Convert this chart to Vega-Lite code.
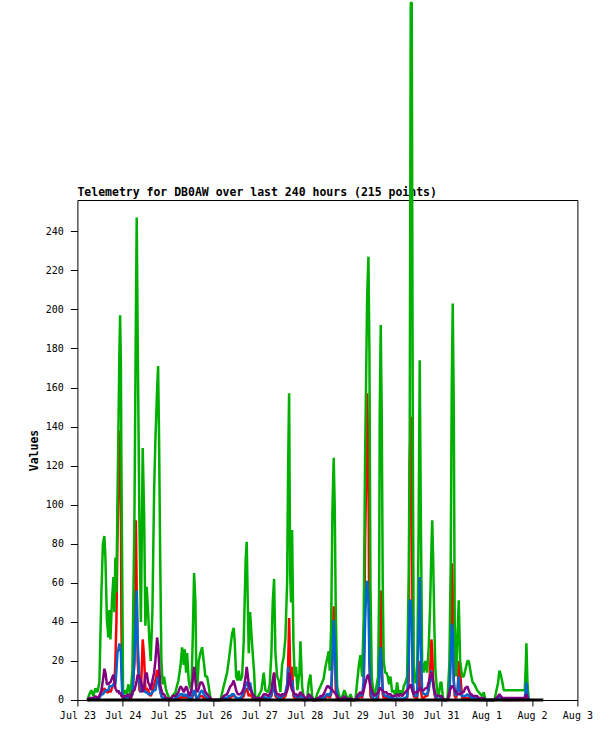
{
"$schema":"https://vega.github.io/schema/vega-lite/v6.json",
"autosize":{"type":"pad"},
"padding":{"left":27.4,"top":0,"right":23,"bottom":20},
"background":"white",
"bounds":"flush",
"spacing":0,
"vconcat":[
{"width":500,"height":1,
 "title":{"text":"Telemetry for DB0AW over last 240 hours (215 points)","anchor":"start","frame":"group","font":"DejaVu Sans Mono","fontSize":11.5,"fontWeight":"bold","color":"black","offset":1},
 "data":{"values":[]},
 "mark":{"type":"point","opacity":0}},
{
"width":500,"height":500,
"data":{"values":[
{"t":"2024-07-23T05:17","g":0,"r":0,"b":0,"p":0,"k":0},
{"t":"2024-07-23T06:20","g":3,"r":0,"b":0,"p":1,"k":0},
{"t":"2024-07-23T07:23","g":5,"r":1,"b":1,"p":1,"k":0},
{"t":"2024-07-23T08:27","g":2,"r":0,"b":0,"p":1,"k":0},
{"t":"2024-07-23T09:30","g":6,"r":1,"b":1,"p":2,"k":0},
{"t":"2024-07-23T10:34","g":4,"r":1,"b":1,"p":1,"k":0},
{"t":"2024-07-23T11:37","g":9,"r":2,"b":1,"p":2,"k":0},
{"t":"2024-07-23T12:40","g":55,"r":4,"b":3,"p":5,"k":0},
{"t":"2024-07-23T13:28","g":80,"r":5,"b":3,"p":10,"k":0},
{"t":"2024-07-23T14:15","g":84,"r":6,"b":4,"p":16,"k":0},
{"t":"2024-07-23T14:47","g":73,"r":5,"b":5,"p":14,"k":0},
{"t":"2024-07-23T15:35","g":41,"r":4,"b":5,"p":8,"k":0},
{"t":"2024-07-23T16:22","g":32,"r":4,"b":5,"p":8,"k":0},
{"t":"2024-07-23T16:54","g":46,"r":5,"b":7,"p":9,"k":0},
{"t":"2024-07-23T17:26","g":31,"r":4,"b":7,"p":9,"k":0},
{"t":"2024-07-23T18:13","g":50,"r":6,"b":7,"p":11,"k":0},
{"t":"2024-07-23T19:01","g":63,"r":8,"b":8,"p":13,"k":0},
{"t":"2024-07-23T19:32","g":45,"r":8,"b":8,"p":10,"k":0},
{"t":"2024-07-23T20:04","g":73,"r":20,"b":8,"p":6,"k":0},
{"t":"2024-07-23T20:36","g":55,"r":40,"b":15,"p":5,"k":0},
{"t":"2024-07-23T21:07","g":99,"r":80,"b":24,"p":4,"k":0},
{"t":"2024-07-23T21:39","g":138,"r":106,"b":26,"p":5,"k":0},
{"t":"2024-07-23T22:11","g":178,"r":138,"b":29,"p":3,"k":0},
{"t":"2024-07-23T22:33","g":197,"r":123,"b":27,"p":4,"k":0},
{"t":"2024-07-23T22:58","g":172,"r":100,"b":25,"p":3,"k":0},
{"t":"2024-07-23T23:14","g":120,"r":40,"b":15,"p":2,"k":0},
{"t":"2024-07-23T23:36","g":73,"r":10,"b":5,"p":2,"k":0},
{"t":"2024-07-24T00:08","g":2,"r":0,"b":2,"p":1,"k":0},
{"t":"2024-07-24T00:49","g":5,"r":1,"b":1,"p":2,"k":0},
{"t":"2024-07-24T01:52","g":3,"r":0,"b":1,"p":2,"k":0},
{"t":"2024-07-24T02:56","g":8,"r":1,"b":2,"p":3,"k":0},
{"t":"2024-07-24T03:59","g":2,"r":0,"b":1,"p":1,"k":0},
{"t":"2024-07-24T05:03","g":15,"r":3,"b":3,"p":4,"k":0},
{"t":"2024-07-24T06:06","g":92,"r":20,"b":20,"p":5,"k":0},
{"t":"2024-07-24T06:53","g":196,"r":92,"b":45,"p":8,"k":0},
{"t":"2024-07-24T07:19","g":247,"r":56,"b":56,"p":10,"k":0},
{"t":"2024-07-24T07:50","g":185,"r":20,"b":30,"p":13,"k":0},
{"t":"2024-07-24T08:44","g":92,"r":5,"b":10,"p":12,"k":0},
{"t":"2024-07-24T09:32","g":40,"r":4,"b":4,"p":10,"k":0},
{"t":"2024-07-24T10:29","g":129,"r":31,"b":6,"p":4,"k":0},
{"t":"2024-07-24T11:13","g":96,"r":22,"b":5,"p":7,"k":0},
{"t":"2024-07-24T11:54","g":38,"r":5,"b":4,"p":13,"k":0},
{"t":"2024-07-24T12:36","g":58,"r":6,"b":4,"p":14,"k":0},
{"t":"2024-07-24T13:20","g":45,"r":5,"b":3,"p":9,"k":0},
{"t":"2024-07-24T14:01","g":30,"r":3,"b":3,"p":8,"k":0},
{"t":"2024-07-24T14:42","g":20,"r":2,"b":3,"p":5,"k":0},
{"t":"2024-07-24T15:36","g":45,"r":4,"b":4,"p":10,"k":0},
{"t":"2024-07-24T16:30","g":107,"r":8,"b":5,"p":14,"k":0},
{"t":"2024-07-24T17:11","g":133,"r":10,"b":5,"p":20,"k":0},
{"t":"2024-07-24T18:05","g":159,"r":15,"b":10,"p":32,"k":0},
{"t":"2024-07-24T18:37","g":171,"r":15,"b":12,"p":28,"k":0},
{"t":"2024-07-24T19:08","g":133,"r":10,"b":8,"p":19,"k":0},
{"t":"2024-07-24T19:40","g":77,"r":5,"b":5,"p":8,"k":0},
{"t":"2024-07-24T20:21","g":20,"r":2,"b":2,"p":5,"k":0},
{"t":"2024-07-24T21:03","g":8,"r":1,"b":1,"p":3,"k":0},
{"t":"2024-07-24T21:47","g":12,"r":1,"b":1,"p":3,"k":0},
{"t":"2024-07-24T22:38","g":6,"r":0,"b":1,"p":1,"k":0},
{"t":"2024-07-24T23:31","g":3,"r":0,"b":0,"p":1,"k":0},
{"t":"2024-07-25T00:57","g":0,"r":0,"b":0,"p":0,"k":0},
{"t":"2024-07-25T02:10","g":2,"r":0,"b":0,"p":2,"k":0},
{"t":"2024-07-25T03:45","g":4,"r":0,"b":1,"p":2,"k":0},
{"t":"2024-07-25T05:20","g":10,"r":1,"b":2,"p":4,"k":0},
{"t":"2024-07-25T06:23","g":17,"r":1,"b":3,"p":7,"k":0},
{"t":"2024-07-25T07:17","g":27,"r":2,"b":3,"p":6,"k":0},
{"t":"2024-07-25T08:08","g":18,"r":1,"b":2,"p":4,"k":0},
{"t":"2024-07-25T08:40","g":26,"r":2,"b":3,"p":5,"k":0},
{"t":"2024-07-25T09:24","g":14,"r":1,"b":2,"p":7,"k":0},
{"t":"2024-07-25T09:56","g":24,"r":2,"b":3,"p":6,"k":0},
{"t":"2024-07-25T10:46","g":10,"r":1,"b":1,"p":3,"k":0},
{"t":"2024-07-25T11:18","g":7,"r":0,"b":1,"p":2,"k":0},
{"t":"2024-07-25T12:12","g":5,"r":0,"b":1,"p":5,"k":0},
{"t":"2024-07-25T12:53","g":31,"r":2,"b":3,"p":10,"k":0},
{"t":"2024-07-25T13:37","g":65,"r":5,"b":5,"p":17,"k":0},
{"t":"2024-07-25T14:19","g":50,"r":3,"b":3,"p":10,"k":0},
{"t":"2024-07-25T14:50","g":10,"r":1,"b":1,"p":5,"k":0},
{"t":"2024-07-25T15:22","g":7,"r":0,"b":1,"p":4,"k":0},
{"t":"2024-07-25T16:03","g":20,"r":1,"b":2,"p":6,"k":0},
{"t":"2024-07-25T16:57","g":24,"r":2,"b":4,"p":9,"k":0},
{"t":"2024-07-25T17:51","g":27,"r":2,"b":5,"p":9,"k":0},
{"t":"2024-07-25T18:41","g":20,"r":1,"b":3,"p":7,"k":0},
{"t":"2024-07-25T19:35","g":12,"r":1,"b":2,"p":4,"k":0},
{"t":"2024-07-25T20:29","g":12,"r":0,"b":1,"p":3,"k":0},
{"t":"2024-07-25T21:20","g":7,"r":0,"b":1,"p":2,"k":0},
{"t":"2024-07-25T22:14","g":1,"r":0,"b":0,"p":1,"k":0},
{"t":"2024-07-25T23:17","g":0,"r":0,"b":0,"p":0,"k":0},
{"t":"2024-07-26T00:52","g":0,"r":0,"b":0,"p":0,"k":0},
{"t":"2024-07-26T02:28","g":0,"r":0,"b":0,"p":0,"k":0},
{"t":"2024-07-26T03:31","g":0,"r":0,"b":0,"p":0,"k":0},
{"t":"2024-07-26T05:15","g":7,"r":0,"b":1,"p":2,"k":0},
{"t":"2024-07-26T07:03","g":14,"r":1,"b":1,"p":3,"k":0},
{"t":"2024-07-26T07:53","g":20,"r":1,"b":2,"p":5,"k":0},
{"t":"2024-07-26T08:47","g":27,"r":1,"b":2,"p":7,"k":0},
{"t":"2024-07-26T09:41","g":34,"r":2,"b":3,"p":8,"k":0},
{"t":"2024-07-26T10:32","g":37,"r":2,"b":3,"p":10,"k":0},
{"t":"2024-07-26T11:04","g":30,"r":2,"b":2,"p":8,"k":0},
{"t":"2024-07-26T11:48","g":12,"r":1,"b":1,"p":5,"k":0},
{"t":"2024-07-26T12:39","g":10,"r":0,"b":1,"p":3,"k":0},
{"t":"2024-07-26T13:10","g":15,"r":1,"b":1,"p":3,"k":0},
{"t":"2024-07-26T14:04","g":10,"r":0,"b":1,"p":3,"k":0},
{"t":"2024-07-26T14:58","g":12,"r":1,"b":2,"p":4,"k":0},
{"t":"2024-07-26T15:49","g":30,"r":2,"b":4,"p":6,"k":0},
{"t":"2024-07-26T16:20","g":51,"r":4,"b":6,"p":9,"k":0},
{"t":"2024-07-26T16:52","g":72,"r":5,"b":8,"p":12,"k":0},
{"t":"2024-07-26T17:24","g":81,"r":6,"b":9,"p":17,"k":0},
{"t":"2024-07-26T17:56","g":51,"r":4,"b":9,"p":13,"k":0},
{"t":"2024-07-26T18:28","g":24,"r":2,"b":5,"p":8,"k":0},
{"t":"2024-07-26T19:11","g":45,"r":3,"b":9,"p":6,"k":0},
{"t":"2024-07-26T19:53","g":34,"r":2,"b":5,"p":4,"k":0},
{"t":"2024-07-26T20:34","g":24,"r":1,"b":3,"p":3,"k":0},
{"t":"2024-07-26T21:19","g":14,"r":1,"b":1,"p":2,"k":0},
{"t":"2024-07-26T21:59","g":0,"r":0,"b":0,"p":1,"k":0},
{"t":"2024-07-26T23:35","g":2,"r":0,"b":0,"p":1,"k":0},
{"t":"2024-07-27T01:10","g":5,"r":0,"b":1,"p":1,"k":0},
{"t":"2024-07-27T02:23","g":14,"r":1,"b":2,"p":3,"k":0},
{"t":"2024-07-27T03:16","g":5,"r":0,"b":1,"p":3,"k":0},
{"t":"2024-07-27T04:42","g":4,"r":0,"b":1,"p":2,"k":0},
{"t":"2024-07-27T05:33","g":8,"r":1,"b":1,"p":3,"k":0},
{"t":"2024-07-27T06:26","g":24,"r":2,"b":3,"p":5,"k":0},
{"t":"2024-07-27T07:08","g":50,"r":5,"b":5,"p":10,"k":0},
{"t":"2024-07-27T07:52","g":62,"r":14,"b":9,"p":14,"k":0},
{"t":"2024-07-27T08:33","g":24,"r":2,"b":3,"p":5,"k":0},
{"t":"2024-07-27T09:27","g":12,"r":1,"b":2,"p":3,"k":0},
{"t":"2024-07-27T10:18","g":10,"r":0,"b":1,"p":3,"k":0},
{"t":"2024-07-27T11:11","g":4,"r":0,"b":1,"p":2,"k":0},
{"t":"2024-07-27T12:05","g":18,"r":1,"b":2,"p":3,"k":0},
{"t":"2024-07-27T12:56","g":22,"r":1,"b":2,"p":3,"k":0},
{"t":"2024-07-27T13:50","g":32,"r":2,"b":4,"p":3,"k":0},
{"t":"2024-07-27T14:44","g":60,"r":5,"b":8,"p":5,"k":0},
{"t":"2024-07-27T15:16","g":119,"r":17,"b":17,"p":7,"k":0},
{"t":"2024-07-27T15:47","g":157,"r":42,"b":10,"p":14,"k":0},
{"t":"2024-07-27T16:19","g":65,"r":17,"b":13,"p":11,"k":0},
{"t":"2024-07-27T16:50","g":50,"r":8,"b":8,"p":7,"k":0},
{"t":"2024-07-27T17:22","g":87,"r":17,"b":10,"p":5,"k":0},
{"t":"2024-07-27T18:04","g":29,"r":2,"b":4,"p":4,"k":0},
{"t":"2024-07-27T18:45","g":12,"r":1,"b":2,"p":3,"k":0},
{"t":"2024-07-27T19:29","g":17,"r":1,"b":2,"p":3,"k":0},
{"t":"2024-07-27T20:10","g":5,"r":0,"b":1,"p":2,"k":0},
{"t":"2024-07-27T21:14","g":14,"r":1,"b":2,"p":3,"k":0},
{"t":"2024-07-27T21:46","g":30,"r":2,"b":3,"p":4,"k":0},
{"t":"2024-07-27T22:39","g":7,"r":0,"b":1,"p":3,"k":0},
{"t":"2024-07-27T23:30","g":1,"r":0,"b":0,"p":2,"k":0},
{"t":"2024-07-28T00:24","g":0,"r":0,"b":0,"p":1,"k":0},
{"t":"2024-07-28T01:17","g":0,"r":0,"b":0,"p":1,"k":0},
{"t":"2024-07-28T02:08","g":9,"r":1,"b":1,"p":3,"k":0},
{"t":"2024-07-28T03:02","g":13,"r":1,"b":1,"p":2,"k":0},
{"t":"2024-07-28T03:56","g":2,"r":0,"b":0,"p":1,"k":0},
{"t":"2024-07-28T04:47","g":0,"r":0,"b":0,"p":0,"k":0},
{"t":"2024-07-28T05:41","g":0,"r":0,"b":0,"p":0,"k":0},
{"t":"2024-07-28T06:34","g":3,"r":0,"b":0,"p":1,"k":0},
{"t":"2024-07-28T07:25","g":5,"r":0,"b":1,"p":1,"k":0},
{"t":"2024-07-28T08:19","g":7,"r":0,"b":1,"p":2,"k":0},
{"t":"2024-07-28T09:13","g":9,"r":1,"b":1,"p":2,"k":0},
{"t":"2024-07-28T10:04","g":11,"r":1,"b":1,"p":3,"k":0},
{"t":"2024-07-28T10:58","g":17,"r":1,"b":2,"p":5,"k":0},
{"t":"2024-07-28T11:51","g":21,"r":2,"b":3,"p":7,"k":0},
{"t":"2024-07-28T12:42","g":25,"r":2,"b":3,"p":7,"k":0},
{"t":"2024-07-28T13:14","g":15,"r":1,"b":2,"p":6,"k":0},
{"t":"2024-07-28T13:58","g":36,"r":3,"b":5,"p":6,"k":0},
{"t":"2024-07-28T14:39","g":97,"r":20,"b":20,"p":5,"k":0},
{"t":"2024-07-28T15:20","g":124,"r":48,"b":41,"p":4,"k":0},
{"t":"2024-07-28T15:52","g":99,"r":41,"b":30,"p":4,"k":0},
{"t":"2024-07-28T16:24","g":48,"r":5,"b":12,"p":3,"k":0},
{"t":"2024-07-28T17:08","g":7,"r":0,"b":2,"p":2,"k":0},
{"t":"2024-07-28T17:59","g":3,"r":0,"b":1,"p":1,"k":0},
{"t":"2024-07-28T18:53","g":0,"r":0,"b":0,"p":0,"k":0},
{"t":"2024-07-28T19:56","g":2,"r":0,"b":0,"p":1,"k":0},
{"t":"2024-07-28T20:59","g":5,"r":0,"b":1,"p":2,"k":0},
{"t":"2024-07-28T22:03","g":2,"r":0,"b":0,"p":1,"k":0},
{"t":"2024-07-28T23:06","g":0,"r":0,"b":0,"p":0,"k":0},
{"t":"2024-07-29T00:10","g":3,"r":0,"b":0,"p":1,"k":0},
{"t":"2024-07-29T01:13","g":0,"r":0,"b":0,"p":0,"k":0},
{"t":"2024-07-29T02:48","g":0,"r":0,"b":0,"p":0,"k":0},
{"t":"2024-07-29T03:42","g":9,"r":1,"b":1,"p":2,"k":0},
{"t":"2024-07-29T04:32","g":17,"r":1,"b":2,"p":3,"k":0},
{"t":"2024-07-29T05:26","g":23,"r":2,"b":3,"p":4,"k":0},
{"t":"2024-07-29T06:20","g":12,"r":1,"b":2,"p":3,"k":0},
{"t":"2024-07-29T07:11","g":42,"r":5,"b":10,"p":5,"k":0},
{"t":"2024-07-29T07:55","g":124,"r":82,"b":40,"p":8,"k":0},
{"t":"2024-07-29T08:27","g":165,"r":111,"b":55,"p":10,"k":0},
{"t":"2024-07-29T08:59","g":206,"r":157,"b":61,"p":12,"k":0},
{"t":"2024-07-29T09:40","g":227,"r":120,"b":50,"p":13,"k":0},
{"t":"2024-07-29T10:11","g":179,"r":20,"b":20,"p":10,"k":0},
{"t":"2024-07-29T10:43","g":60,"r":2,"b":8,"p":7,"k":0},
{"t":"2024-07-29T11:25","g":12,"r":1,"b":2,"p":5,"k":0},
{"t":"2024-07-29T12:08","g":5,"r":0,"b":1,"p":3,"k":0},
{"t":"2024-07-29T12:50","g":2,"r":0,"b":0,"p":2,"k":0},
{"t":"2024-07-29T13:53","g":7,"r":0,"b":1,"p":3,"k":0},
{"t":"2024-07-29T14:47","g":12,"r":1,"b":3,"p":4,"k":0},
{"t":"2024-07-29T15:19","g":56,"r":10,"b":10,"p":5,"k":0},
{"t":"2024-07-29T15:38","g":147,"r":39,"b":20,"p":6,"k":0},
{"t":"2024-07-29T16:10","g":192,"r":56,"b":27,"p":6,"k":0},
{"t":"2024-07-29T16:41","g":147,"r":20,"b":15,"p":5,"k":0},
{"t":"2024-07-29T17:13","g":60,"r":3,"b":5,"p":5,"k":0},
{"t":"2024-07-29T17:44","g":20,"r":1,"b":3,"p":4,"k":0},
{"t":"2024-07-29T18:29","g":14,"r":1,"b":2,"p":4,"k":0},
{"t":"2024-07-29T19:10","g":14,"r":1,"b":2,"p":4,"k":0},
{"t":"2024-07-29T19:52","g":12,"r":1,"b":2,"p":3,"k":0},
{"t":"2024-07-29T20:35","g":8,"r":0,"b":1,"p":3,"k":0},
{"t":"2024-07-29T21:17","g":12,"r":1,"b":2,"p":3,"k":0},
{"t":"2024-07-29T22:11","g":4,"r":0,"b":1,"p":2,"k":0},
{"t":"2024-07-29T23:01","g":5,"r":0,"b":1,"p":2,"k":0},
{"t":"2024-07-29T23:55","g":2,"r":0,"b":0,"p":2,"k":0},
{"t":"2024-07-30T00:49","g":9,"r":1,"b":1,"p":3,"k":0},
{"t":"2024-07-30T01:40","g":3,"r":0,"b":0,"p":2,"k":0},
{"t":"2024-07-30T02:34","g":5,"r":0,"b":1,"p":3,"k":0},
{"t":"2024-07-30T03:28","g":2,"r":0,"b":0,"p":2,"k":0},
{"t":"2024-07-30T04:18","g":7,"r":0,"b":1,"p":3,"k":0},
{"t":"2024-07-30T05:12","g":9,"r":1,"b":1,"p":4,"k":0},
{"t":"2024-07-30T06:06","g":12,"r":1,"b":2,"p":5,"k":0},
{"t":"2024-07-30T06:56","g":63,"r":10,"b":20,"p":6,"k":0},
{"t":"2024-07-30T07:28","g":133,"r":121,"b":51,"p":7,"k":0},
{"t":"2024-07-30T08:00","g":357,"r":145,"b":51,"p":8,"k":0},
{"t":"2024-07-30T08:32","g":357,"r":120,"b":40,"p":6,"k":0},
{"t":"2024-07-30T09:04","g":145,"r":10,"b":10,"p":4,"k":0},
{"t":"2024-07-30T09:35","g":19,"r":2,"b":3,"p":3,"k":0},
{"t":"2024-07-30T10:29","g":9,"r":1,"b":2,"p":4,"k":0},
{"t":"2024-07-30T11:23","g":9,"r":1,"b":2,"p":4,"k":0},
{"t":"2024-07-30T12:13","g":93,"r":10,"b":40,"p":5,"k":0},
{"t":"2024-07-30T12:45","g":174,"r":20,"b":63,"p":6,"k":0},
{"t":"2024-07-30T13:17","g":100,"r":5,"b":30,"p":6,"k":0},
{"t":"2024-07-30T14:01","g":20,"r":1,"b":5,"p":5,"k":0},
{"t":"2024-07-30T14:52","g":14,"r":1,"b":3,"p":5,"k":0},
{"t":"2024-07-30T15:46","g":20,"r":2,"b":3,"p":6,"k":0},
{"t":"2024-07-30T16:40","g":14,"r":2,"b":3,"p":6,"k":0},
{"t":"2024-07-30T17:30","g":27,"r":5,"b":6,"p":9,"k":0},
{"t":"2024-07-30T18:14","g":48,"r":15,"b":10,"p":12,"k":0},
{"t":"2024-07-30T18:56","g":78,"r":31,"b":15,"p":14,"k":0},
{"t":"2024-07-30T19:21","g":92,"r":25,"b":12,"p":13,"k":0},
{"t":"2024-07-30T19:50","g":73,"r":10,"b":8,"p":9,"k":0},
{"t":"2024-07-30T20:31","g":36,"r":3,"b":4,"p":5,"k":0},
{"t":"2024-07-30T21:02","g":15,"r":1,"b":2,"p":3,"k":0},
{"t":"2024-07-30T21:56","g":5,"r":0,"b":1,"p":2,"k":0},
{"t":"2024-07-30T22:47","g":2,"r":0,"b":0,"p":2,"k":0},
{"t":"2024-07-30T23:41","g":9,"r":1,"b":1,"p":2,"k":0},
{"t":"2024-07-31T00:13","g":9,"r":1,"b":1,"p":2,"k":0},
{"t":"2024-07-31T00:54","g":2,"r":0,"b":0,"p":1,"k":0},
{"t":"2024-07-31T01:26","g":0,"r":0,"b":0,"p":0,"k":0},
{"t":"2024-07-31T02:19","g":0,"r":0,"b":0,"p":0,"k":0},
{"t":"2024-07-31T03:23","g":0,"r":0,"b":0,"p":0,"k":0},
{"t":"2024-07-31T04:26","g":19,"r":2,"b":3,"p":4,"k":0},
{"t":"2024-07-31T05:07","g":70,"r":42,"b":20,"p":6,"k":0},
{"t":"2024-07-31T05:39","g":159,"r":70,"b":39,"p":7,"k":0},
{"t":"2024-07-31T06:11","g":203,"r":55,"b":35,"p":7,"k":0},
{"t":"2024-07-31T06:43","g":152,"r":10,"b":10,"p":6,"k":0},
{"t":"2024-07-31T07:14","g":39,"r":2,"b":4,"p":5,"k":0},
{"t":"2024-07-31T07:58","g":12,"r":1,"b":2,"p":4,"k":0},
{"t":"2024-07-31T08:49","g":36,"r":5,"b":6,"p":3,"k":0},
{"t":"2024-07-31T09:21","g":51,"r":20,"b":12,"p":3,"k":0},
{"t":"2024-07-31T10:05","g":20,"r":14,"b":4,"p":3,"k":0},
{"t":"2024-07-31T11:08","g":12,"r":1,"b":2,"p":4,"k":0},
{"t":"2024-07-31T11:59","g":12,"r":1,"b":2,"p":4,"k":0},
{"t":"2024-07-31T12:44","g":15,"r":1,"b":2,"p":6,"k":0},
{"t":"2024-07-31T13:56","g":20,"r":1,"b":3,"p":7,"k":0},
{"t":"2024-07-31T14:38","g":20,"r":1,"b":2,"p":5,"k":0},
{"t":"2024-07-31T15:31","g":15,"r":1,"b":2,"p":3,"k":0},
{"t":"2024-07-31T16:03","g":12,"r":0,"b":1,"p":3,"k":0},
{"t":"2024-07-31T16:44","g":9,"r":0,"b":1,"p":2,"k":0},
{"t":"2024-07-31T17:38","g":8,"r":0,"b":1,"p":2,"k":0},
{"t":"2024-07-31T19:04","g":5,"r":0,"b":1,"p":2,"k":0},
{"t":"2024-07-31T19:55","g":4,"r":0,"b":0,"p":1,"k":0},
{"t":"2024-07-31T20:48","g":3,"r":0,"b":0,"p":1,"k":0},
{"t":"2024-07-31T21:42","g":2,"r":0,"b":0,"p":1,"k":0},
{"t":"2024-07-31T22:33","g":4,"r":0,"b":0,"p":1,"k":0},
{"t":"2024-07-31T23:26","g":0,"r":0,"b":0,"p":0,"k":0},
{"t":"2024-08-01T00:20","g":0,"r":0,"b":0,"p":0,"k":0},
{"t":"2024-08-01T02:05","g":0,"r":0,"b":0,"p":0,"k":0},
{"t":"2024-08-01T04:12","g":0,"r":0,"b":0,"p":0,"k":0},
{"t":"2024-08-01T06:09","g":9,"r":1,"b":1,"p":2,"k":0},
{"t":"2024-08-01T06:50","g":15,"r":1,"b":2,"p":3,"k":0},
{"t":"2024-08-01T07:32","g":13,"r":1,"b":1,"p":2,"k":0},
{"t":"2024-08-01T08:25","g":9,"r":0,"b":1,"p":1,"k":0},
{"t":"2024-08-01T09:07","g":5,"r":0,"b":0,"p":1,"k":0},
{"t":"2024-08-01T20:12","g":5,"r":0,"b":1,"p":1,"k":0},
{"t":"2024-08-01T20:44","g":17,"r":1,"b":5,"p":2,"k":0},
{"t":"2024-08-01T21:05","g":29,"r":2,"b":9,"p":3,"k":0},
{"t":"2024-08-01T21:37","g":9,"r":1,"b":3,"p":1,"k":0},
{"t":"2024-08-01T22:19","g":0,"r":0,"b":0,"p":0,"k":0},
{"t":"2024-08-02T06:00","k":0}
]},
"encoding":{"x":{"field":"t","type":"temporal","title":null,
 "scale":{"domain":[{"year":2024,"month":7,"date":23},{"year":2024,"month":8,"date":3}]},
 "axis":{"values":[{"year":2024,"month":7,"date":23},{"year":2024,"month":7,"date":24},{"year":2024,"month":7,"date":25},{"year":2024,"month":7,"date":26},{"year":2024,"month":7,"date":27},{"year":2024,"month":7,"date":28},{"year":2024,"month":7,"date":29},{"year":2024,"month":7,"date":30},{"year":2024,"month":7,"date":31},{"year":2024,"month":8,"date":1},{"year":2024,"month":8,"date":2},{"year":2024,"month":8,"date":3}],
 "format":"%b %-d","tickSize":6,"labelPadding":5,"labelFlush":false,"labelOverlap":false,"grid":false,"domain":false}}},
"layer":[
{"transform":[{"filter":"isValid(datum.r)"}],"mark":{"type":"line","color":"#ff0000","strokeWidth":2.5},
 "encoding":{"y":{"field":"r","type":"quantitative","title":"Values","scale":{"domain":[0,256],"nice":false,"zero":true},"axis":{"values":[0,20,40,60,80,100,120,140,160,180,200,220,240]}}}},
{"transform":[{"filter":"isValid(datum.g)"}],"mark":{"type":"line","color":"#00b000","strokeWidth":2.5},
 "encoding":{"y":{"field":"g","type":"quantitative","title":"Values","scale":{"domain":[0,256],"nice":false,"zero":true},"axis":{"values":[0,20,40,60,80,100,120,140,160,180,200,220,240]}}}},
{"transform":[{"filter":"isValid(datum.b)"}],"mark":{"type":"line","color":"#0066cc","strokeWidth":2.5},
 "encoding":{"y":{"field":"b","type":"quantitative","title":"Values","scale":{"domain":[0,256],"nice":false,"zero":true},"axis":{"values":[0,20,40,60,80,100,120,140,160,180,200,220,240]}}}},
{"transform":[{"filter":"isValid(datum.p)"}],"mark":{"type":"line","color":"#800080","strokeWidth":2.5},
 "encoding":{"y":{"field":"p","type":"quantitative","title":"Values","scale":{"domain":[0,256],"nice":false,"zero":true},"axis":{"values":[0,20,40,60,80,100,120,140,160,180,200,220,240]}}}},
{"transform":[{"filter":"isValid(datum.k)"}],"mark":{"type":"line","color":"#000000","strokeWidth":3},
 "encoding":{"y":{"field":"k","type":"quantitative","title":"Values","scale":{"domain":[0,256],"nice":false,"zero":true},"axis":{"values":[0,20,40,60,80,100,120,140,160,180,200,220,240]}}}}
]
}],
"config":{
 "view":{"stroke":"#000000","strokeWidth":1},
 "line":{"strokeJoin":"bevel","strokeCap":"butt"},
 "axis":{"labelFont":"DejaVu Sans Mono","labelFontSize":10,"labelColor":"#000000","tickColor":"#000000","tickWidth":1,"domain":false,"grid":false,
  "titleFont":"DejaVu Sans Mono","titleFontSize":11.5,"titleFontWeight":"bold","titleColor":"#000000"},
 "axisY":{"tickSize":7,"labelPadding":7,"titlePadding":6}
}
}
